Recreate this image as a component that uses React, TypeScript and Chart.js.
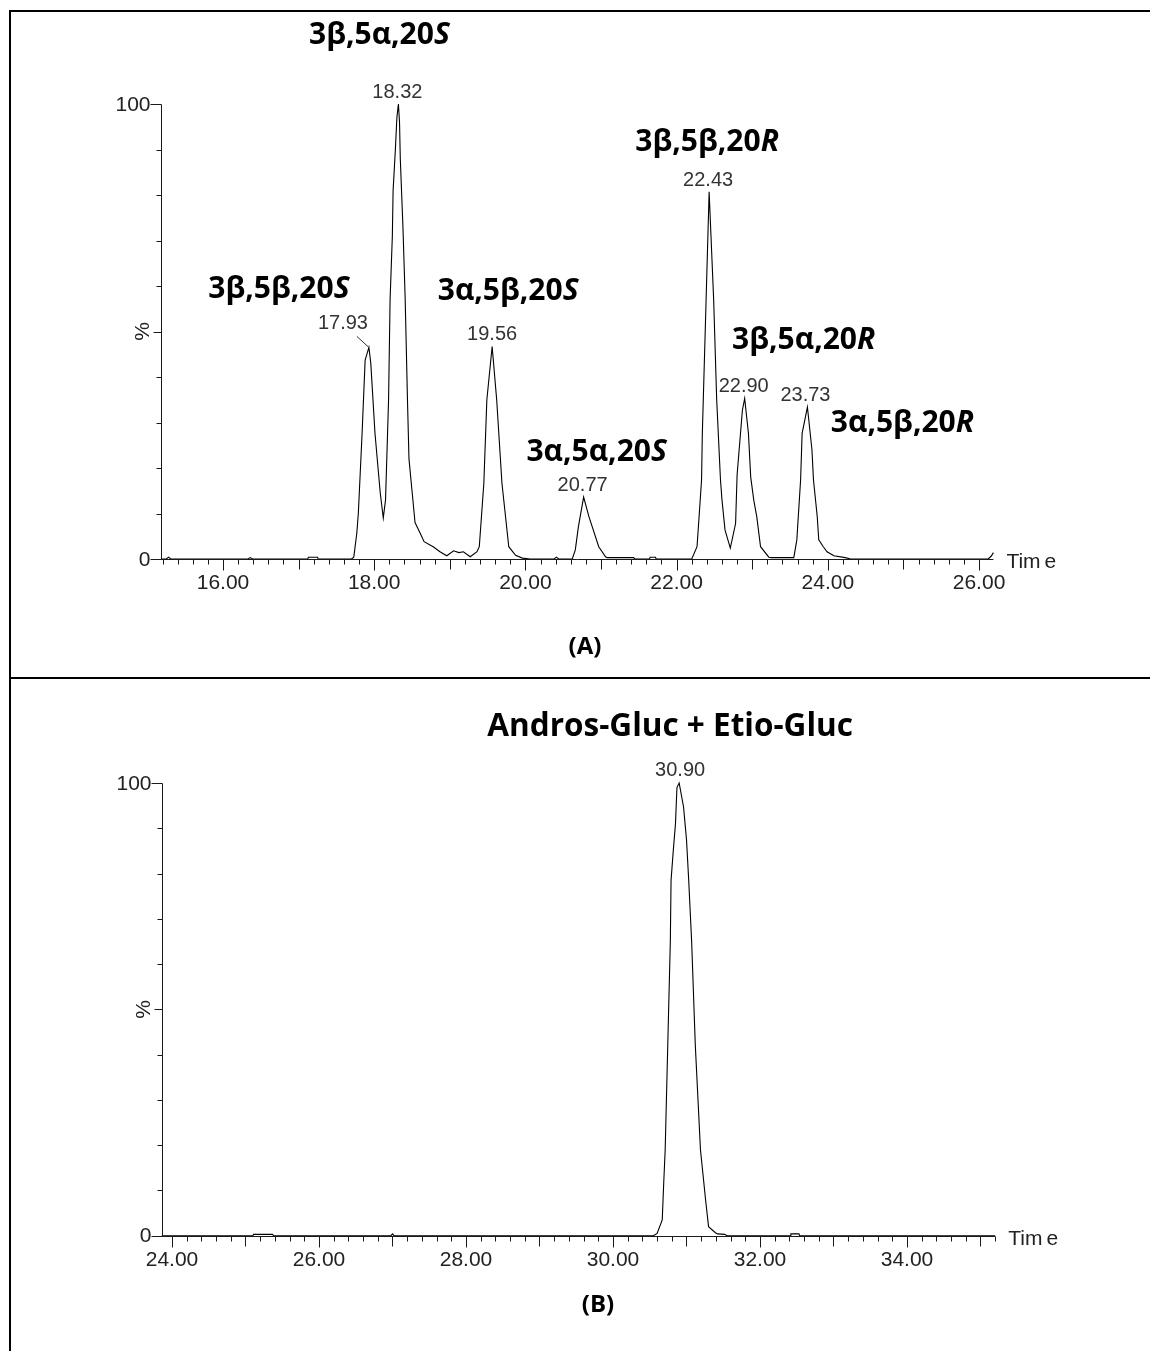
import React, { useEffect, useRef } from "react";
import { Chart, registerables } from "chart.js";

Chart.register(...registerables);

// ---------- Panel A data (retention time in min, relative intensity %) ----------
const timeA = [
  15.18, 15.25, 15.28, 15.31, 16.33, 16.36, 16.39, 17.12, 17.13, 17.25, 17.26, 17.7,
  17.73, 17.77, 17.79, 17.84, 17.88, 17.93, 17.955, 18.01, 18.08, 18.12,
  18.15, 18.19, 18.21, 18.24, 18.25, 18.28, 18.3, 18.32, 18.335, 18.345, 18.38, 18.41,
  18.44, 18.46, 18.5, 18.54, 18.61, 18.66, 18.78, 18.87, 18.96, 19.05, 19.12, 19.18,
  19.27, 19.36, 19.39,
  19.45, 19.49, 19.56, 19.62, 19.69, 19.78, 19.87, 19.96, 20.06, 20.38, 20.41, 20.44,
  20.62, 20.66, 20.7, 20.77, 20.84, 20.97, 21.06, 21.08, 21.43, 21.45, 21.64, 21.65,
  21.72, 21.73,
  22.2, 22.27, 22.3, 22.33, 22.34, 22.39, 22.43, 22.49, 22.53, 22.58, 22.6, 22.64, 22.71,
  22.78, 22.8, 22.87, 22.9, 22.95, 22.98, 23.02, 23.06, 23.11, 23.22, 23.25, 23.52,
  23.55, 23.59, 23.64, 23.66, 23.73, 23.79, 23.81, 23.86, 23.88, 23.94, 23.99, 24.08,
  24.23, 24.3, 26.12, 26.16, 26.19,
];
const intensityA = [
  0, 0, 0.4, 0, 0, 0.3, 0, 0, 0.4, 0.4, 0, 0,
  0.4, 5.7, 10, 27.7, 43.7, 46.5, 43, 27.7, 14.5, 9,
  13, 35, 57, 71, 81, 90, 97, 100, 96, 88, 73, 57,
  35, 22, 15, 8, 5.6, 3.8, 2.7, 1.6, 0.7, 1.8, 1.4, 1.6,
  0.5, 1.6, 2.7,
  16.6, 35, 46.7, 35, 16.6, 2.7, 0.8, 0.2, 0, 0, 0.4, 0,
  0, 2, 7, 13.6, 9.3, 2.7, 0.5, 0.3, 0.3, 0, 0, 0.4,
  0.4, 0,
  0, 2.7, 10, 17.4, 27.6, 57, 80.7, 57, 35, 17.4, 13, 6.4, 2.4,
  7.8, 18.5, 32.7, 35.3, 27.6, 18, 13, 9.3, 2.7, 0.4, 0.3, 0.3,
  0.3, 4.2, 17.4, 27.6, 33.4, 24, 17.4, 9.3, 4.2, 2.7, 1.6, 0.7,
  0.3, 0, 0, 0.6, 1.4,
];
const peakTimesA = [17.93, 18.32, 19.56, 20.77, 22.43, 22.9, 23.73];
const peakHeightsA = [46.5, 100, 46.7, 13.6, 80.7, 35.3, 33.4];
const peakLabelsA = ["17.93", "18.32", "19.56", "20.77", "22.43", "22.90", "23.73"];
const compoundStemsA = ["3β,5β,20", "3β,5α,20", "3α,5β,20", "3α,5α,20", "3β,5β,20", "3β,5α,20", "3α,5β,20"];
const compoundConfigsA = ["S", "S", "S", "S", "R", "R", "R"];
const xTickLabelsA = ["16.00", "18.00", "20.00", "22.00", "24.00", "26.00"];

// ---------- Panel B data ----------
const timeB = [
  23.86, 25.1, 25.11, 25.37, 25.38, 26.98, 27.0, 27.02,
  30.55, 30.6, 30.67, 30.69, 30.71, 30.745, 30.78, 30.79, 30.82, 30.85, 30.87, 30.9,
  30.96, 31.0, 31.03, 31.07, 31.12, 31.19, 31.26, 31.3, 31.39, 31.42, 31.52, 31.55,
  32.41, 32.42, 32.53, 32.54, 35.2,
];
const intensityB = [
  0, 0, 0.3, 0.3, 0, 0, 0.4, 0,
  0, 0.5, 3.5, 11.6, 19, 42, 65, 78.5, 85, 91, 99, 100,
  94.7, 87.5, 78.5, 65, 42, 19, 7.9, 2, 0.7, 0.4, 0.3, 0,
  0, 0.4, 0.4, 0, 0,
];
const peakTimesB = [30.9];
const peakHeightsB = [100];
const peakLabelsB = ["30.90"];
const titleB = "Andros-Gluc + Etio-Gluc";
const xTickLabelsB = ["24.00", "26.00", "28.00", "30.00", "32.00", "34.00"];

// shared y labels
const yTickValues = [0, 50, 100];
const yTickLabels = ["0", "%", "100"];

// ---------- layout / style (not data) ----------
const BOLD = '"Open Sans", "Noto Sans", sans-serif';
const AXIS_FONT = '21px "Liberation Sans", Arial, sans-serif';
const VALUE_FONT = '20px "Liberation Sans", Arial, sans-serif';

type PanelCfg = {
  top: number;
  height: number;
  padding: { left: number; right: number; top: number; bottom: number };
  xMin: number;
  xMax: number;
  time: number[];
  intensity: number[];
  peakTimes: number[];
  peakHeights: number[];
  peakLabels: string[];
  valueOffsets: number[][];
  leader: boolean[];
  compounds: { stem: string; cfg: string; dx: number; dy: number; size: number }[];
  xTickLabels: string[];
  panelLabel: string;
  panelLabelPos: number[];
};

const valueOffsetsA = [[-26, -24], [-1, -12], [0, -12], [-1, -12], [-1, -11], [-1, -12], [-2, -12]];
const leaderA = [true, false, false, false, false, false, false];
const compoundOffsetsA = [[-90, -58], [-19, -69], [16, -55], [13, -45], [-2, -49], [59, -58], [95, 16]];

const panelA: PanelCfg = {
  top: 0,
  height: 677,
  padding: { left: 161, right: 156.6, top: 104, bottom: 118 },
  xMin: 15.18,
  xMax: 26.19,
  time: timeA,
  intensity: intensityA,
  peakTimes: peakTimesA,
  peakHeights: peakHeightsA,
  peakLabels: peakLabelsA,
  valueOffsets: valueOffsetsA,
  leader: leaderA,
  compounds: compoundStemsA.map((s, i) => ({
    stem: s,
    cfg: compoundConfigsA[i],
    dx: compoundOffsetsA[i][0],
    dy: compoundOffsetsA[i][1],
    size: 30,
  })),
  xTickLabels: xTickLabelsA,
  panelLabel: "(A)",
  panelLabelPos: [585, 647],
};

const panelB: PanelCfg = {
  top: 679,
  height: 672,
  padding: { left: 161.7, right: 154.8, top: 104, bottom: 115.3 },
  xMin: 23.86,
  xMax: 35.2,
  time: timeB,
  intensity: intensityB,
  peakTimes: peakTimesB,
  peakHeights: peakHeightsB,
  peakLabels: peakLabelsB,
  valueOffsets: [[1, -13]],
  leader: [false],
  compounds: [{ stem: titleB, cfg: "", dx: -9, dy: -56, size: 31.5 }],
  xTickLabels: xTickLabelsB,
  panelLabel: "(B)",
  panelLabelPos: [598, 626],
};

function drawCompound(ctx: CanvasRenderingContext2D, stem: string, it: string, cx: number, cy: number, size: number) {
  const f1 = `bold ${size}px ${BOLD}`;
  const f2 = `italic bold ${size}px ${BOLD}`;
  ctx.font = f1;
  const w1 = ctx.measureText(stem).width;
  ctx.font = f2;
  const w2 = it ? ctx.measureText(it).width : 0;
  const x = cx - (w1 + w2) / 2;
  ctx.textAlign = "left";
  ctx.textBaseline = "middle";
  ctx.fillStyle = "#000";
  ctx.font = f1;
  ctx.fillText(stem, x, cy);
  if (it) {
    ctx.font = f2;
    ctx.fillText(it, x + w1, cy);
  }
}

function makePlugin(cfg: PanelCfg) {
  return {
    id: "chromDecor",
    afterDraw(chart: any) {
      const ctx: CanvasRenderingContext2D = chart.ctx;
      const xs = chart.scales.x;
      const ys = chart.scales.y;
      const area = chart.chartArea;
      ctx.save();
      const x0 = Math.round(area.left) + 0.5;
      const yZero = Math.round(ys.getPixelForValue(0)) + 0.5;
      const yTop = Math.round(ys.getPixelForValue(100)) + 0.5;
      const xEnd = area.right;

      ctx.strokeStyle = "#1a1a1a";
      ctx.lineWidth = 1;
      ctx.beginPath();
      ctx.moveTo(x0, yTop);
      ctx.lineTo(x0, yZero);
      ctx.lineTo(xEnd, yZero);
      // y ticks every 10 %
      for (let v = 0; v <= 100; v += 10) {
        const y = Math.round(ys.getPixelForValue(v)) + 0.5;
        const len = v === 0 || v === 100 ? 11 : v === 50 ? 8 : 5;
        ctx.moveTo(x0 - len, y);
        ctx.lineTo(x0, y);
      }
      // x ticks every 0.2 min
      const iStart = Math.ceil(xs.min * 5 - 1e-6);
      const iEnd = Math.floor(xs.max * 5 + 1e-6);
      for (let i = iStart; i <= iEnd; i++) {
        const x = Math.round(xs.getPixelForValue(i / 5)) + 0.5;
        const len = i % 10 === 0 ? 11 : i % 5 === 0 ? 10 : 5;
        ctx.moveTo(x, yZero);
        ctx.lineTo(x, yZero + len);
      }
      ctx.stroke();

      // axis labels
      ctx.fillStyle = "#222";
      ctx.font = AXIS_FONT;
      ctx.textBaseline = "middle";
      ctx.textAlign = "center";
      cfg.xTickLabels.forEach((lab) => {
        const x = xs.getPixelForValue(parseFloat(lab));
        ctx.fillText(lab, x, yZero + 24);
      });
      yTickValues.forEach((v, i) => {
        const y = ys.getPixelForValue(v);
        const lab = yTickLabels[i];
        if (lab === "%") {
          ctx.save();
          ctx.translate(x0 - 18, y);
          ctx.rotate(-Math.PI / 2);
          ctx.textAlign = "center";
          ctx.fillText(lab, 0, 0);
          ctx.restore();
        } else {
          ctx.textAlign = "right";
          ctx.fillText(lab, x0 - 11, y + 1);
        }
      });
      ctx.textAlign = "left";
      ctx.fillText("Tim", xEnd + 13, yZero + 3);
      const wTim = ctx.measureText("Tim").width;
      ctx.fillText("e", xEnd + 13 + wTim + 4, yZero + 3);

      // peak value labels
      ctx.font = VALUE_FONT;
      ctx.fillStyle = "#333";
      ctx.textAlign = "center";
      cfg.peakTimes.forEach((t, i) => {
        const px = xs.getPixelForValue(t);
        const py = ys.getPixelForValue(cfg.peakHeights[i]);
        const [dx, dy] = cfg.valueOffsets[i];
        ctx.fillText(cfg.peakLabels[i], px + dx, py + dy);
        if (cfg.leader[i]) {
          ctx.strokeStyle = "#333";
          ctx.beginPath();
          ctx.moveTo(px - 12, py - 11);
          ctx.lineTo(px, py);
          ctx.stroke();
        }
      });

      // compound names
      cfg.compounds.forEach((c, i) => {
        const px = xs.getPixelForValue(cfg.peakTimes[i]);
        const py = ys.getPixelForValue(cfg.peakHeights[i]);
        drawCompound(ctx, c.stem, c.cfg, px + c.dx, py + c.dy, c.size);
      });

      // panel label
      drawCompound(ctx, cfg.panelLabel, "", cfg.panelLabelPos[0], cfg.panelLabelPos[1], 24);
      ctx.restore();
    },
  };
}

function Panel({ cfg }: { cfg: PanelCfg }) {
  const ref = useRef<HTMLCanvasElement | null>(null);
  useEffect(() => {
    if (!ref.current) return;
    const chart = new Chart(ref.current, {
      type: "scatter",
      data: {
        datasets: [
          {
            data: cfg.time.map((t, i) => ({ x: t, y: cfg.intensity[i] })),
            showLine: true,
            borderColor: "#000",
            borderWidth: 1.1,
            pointRadius: 0,
            tension: 0,
            clip: false as any,
          },
        ],
      },
      options: {
        animation: false,
        responsive: false,
        devicePixelRatio: 1,
        layout: { padding: cfg.padding },
        plugins: { legend: { display: false }, tooltip: { enabled: false } },
        events: [],
        scales: {
          x: { type: "linear", min: cfg.xMin, max: cfg.xMax, display: false },
          y: { type: "linear", min: 0, max: 100, display: false },
        },
      },
      plugins: [makePlugin(cfg)],
    });
    return () => chart.destroy();
  }, [cfg]);
  return (
    <canvas
      ref={ref}
      width={1150}
      height={cfg.height}
      style={{ position: "absolute", left: 0, top: cfg.top, width: 1150, height: cfg.height }}
    />
  );
}

export default function App() {
  return (
    <div style={{ position: "absolute", left: 0, top: 0, width: 1150, height: 1351, background: "#fff", overflow: "hidden" }}>
      <Panel cfg={panelA} />
      <Panel cfg={panelB} />
      <div style={{ position: "absolute", left: 9, top: 10, width: 2, height: 1341, background: "#000" }} />
      <div style={{ position: "absolute", left: 9, top: 10, width: 1141, height: 2, background: "#000" }} />
      <div style={{ position: "absolute", left: 9, top: 677, width: 1141, height: 2, background: "#000" }} />
    </div>
  );
}
